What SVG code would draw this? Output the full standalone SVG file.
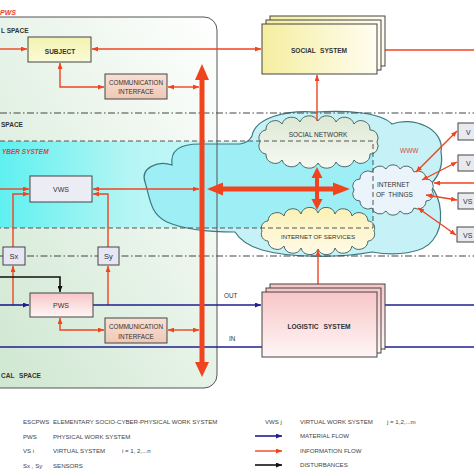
<svg xmlns="http://www.w3.org/2000/svg" width="474" height="474" viewBox="0 0 474 474">
<defs>
<style>
.r{stroke:#f0441f;stroke-width:1.4;fill:none}
.b{stroke:#1f1f8f;stroke-width:1.6;fill:none}
.k{stroke:#111;stroke-width:1.6;fill:none}
.t{font-family:"Liberation Sans",Arial,sans-serif;fill:#333}
.bo{font-weight:bold}
.box{stroke:#444;stroke-width:1}
.cl{stroke:#4a6a6a;stroke-width:1}
.dd{stroke:#444;stroke-width:1.1;stroke-dasharray:7 2.5 1.5 2.5;fill:none}
.da{stroke:#555;stroke-width:1;stroke-dasharray:5 3;fill:none}
.lg{font-family:"Liberation Sans",Arial,sans-serif;fill:#444;font-size:6.1px}
</style>
<marker id="ar" viewBox="0 0 6 5" refX="6" refY="2.5" markerWidth="6" markerHeight="5" markerUnits="userSpaceOnUse" orient="auto-start-reverse"><path d="M0,0 L6,2.5 L0,5 z" fill="#f0441f"/></marker>
<marker id="ab" viewBox="0 0 6 5" refX="6" refY="2.5" markerWidth="6" markerHeight="5" markerUnits="userSpaceOnUse" orient="auto-start-reverse"><path d="M0,0 L6,2.5 L0,5 z" fill="#1f1f8f"/></marker>
<marker id="ak" viewBox="0 0 6 5" refX="6" refY="2.5" markerWidth="6" markerHeight="5" markerUnits="userSpaceOnUse" orient="auto-start-reverse"><path d="M0,0 L6,2.5 L0,5 z" fill="#111"/></marker>
<linearGradient id="gPanel" x1="0" y1="1" x2="1" y2="0"><stop offset="0" stop-color="#cde6cf"/><stop offset="1" stop-color="#ffffff"/></linearGradient>
<linearGradient id="gBand" x1="0" y1="0" x2="1" y2="0"><stop offset="0" stop-color="#5ff0f0"/><stop offset="0.35" stop-color="#b6f5f5"/><stop offset="1" stop-color="#e2fafa"/></linearGradient>
<linearGradient id="gYel" x1="0" y1="0" x2="1" y2="0"><stop offset="0" stop-color="#f5eea0"/><stop offset="1" stop-color="#fffdf0"/></linearGradient>
<linearGradient id="gSub" x1="0" y1="0" x2="0" y2="1"><stop offset="0" stop-color="#f2f2b0"/><stop offset="1" stop-color="#fbfbd8"/></linearGradient>
<linearGradient id="gPink" x1="0" y1="0" x2="0" y2="1"><stop offset="0" stop-color="#f8c6c8"/><stop offset="1" stop-color="#fff6f6"/></linearGradient>
<linearGradient id="gCom" x1="0" y1="0" x2="0" y2="1"><stop offset="0" stop-color="#f7e0d4"/><stop offset="1" stop-color="#efc8b6"/></linearGradient>
<linearGradient id="gSN" x1="0" y1="0" x2="0" y2="1"><stop offset="0" stop-color="#dde8d4"/><stop offset="1" stop-color="#f6f9f2"/></linearGradient>
<linearGradient id="gIoS" x1="0" y1="0" x2="0" y2="1"><stop offset="0" stop-color="#fbf0b4"/><stop offset="1" stop-color="#fffbe8"/></linearGradient>
<path id="bigCloud" d="M145,182 C140,168 158,160 172,165 C170,150 180,144 200,144 L240,144 C246,143 250,140 252,136 C255,118 285,110 315,112 C345,110 380,112 392,124 C412,116 445,128 441,152 C444,168 437,178 430,185 C442,198 445,225 433,240 C423,254 395,256 372,252 C340,258 290,258 262,250 C248,246 240,240 235,232 C215,232 185,230 167,222 C150,214 150,198 145,182 Z"/>
<clipPath id="cpCloud"><use href="#bigCloud"/></clipPath>
</defs>
<rect width="474" height="474" fill="#ffffff"/>

<g id="backgrounds">
<rect x="-20" y="17" width="237" height="371" rx="13" fill="url(#gPanel)"/>
<rect x="0" y="141" width="373" height="87" fill="url(#gBand)"/>
</g>

<g id="www-cloud">
<use href="#bigCloud" fill="#c6f1f6"/>
<rect x="0" y="141" width="373" height="87" fill="#9eeef5" clip-path="url(#cpCloud)"/>
<use href="#bigCloud" fill="none" stroke="#3d7a80" stroke-width="1.2"/>
<text class="t" x="400" y="153" font-size="6.5" style="fill:#d84848">WWW</text>
</g>

<g id="panel-border">
<rect x="-20" y="17" width="237" height="371" rx="13" fill="none" stroke="#555" stroke-width="1"/>
<text class="t bo" x="0" y="14.5" font-size="7" font-style="italic" style="fill:#e8402a">PWS</text>
<text class="t bo" x="1" y="33" font-size="6.5">L SPACE</text>
<text class="t bo" x="1" y="127" font-size="6.5">SPACE</text>
<text class="t bo" x="2" y="154" font-size="6.5" font-style="italic" style="fill:#e8402a">YBER SYSTEM</text>
<text class="t bo" x="1" y="378" font-size="6.5" word-spacing="3">CAL SPACE</text>
</g>

<g id="social-network">
<path class="cl" fill="url(#gSN)" d="M260,142 A8,8 0 0 1 266,130 A9,9 0 0 1 282,124 A10,10 0 0 1 300,122 A10,10 0 0 1 318,121 A10,10 0 0 1 336,122 A10,10 0 0 1 354,124 A9,9 0 0 1 370,130 A8,8 0 0 1 377,142 A8,8 0 0 1 370,154 A9,9 0 0 1 354,160 A10,10 0 0 1 336,162 A10,10 0 0 1 318,163 A10,10 0 0 1 300,162 A10,10 0 0 1 282,160 A9,9 0 0 1 266,154 A8,8 0 0 1 260,142 Z"/>
<text class="t" x="318" y="137" font-size="6.5" text-anchor="middle">SOCIAL NETWORK</text>
</g>

<g id="internet-of-services">
<path class="cl" fill="url(#gIoS)" d="M262,231 A7,7 0 0 1 268,221 A9,9 0 0 1 284,216 A9,9 0 0 1 301,214 A9,9 0 0 1 318,213 A9,9 0 0 1 335,214 A9,9 0 0 1 352,216 A9,9 0 0 1 368,221 A7,7 0 0 1 374,231 A7,7 0 0 1 368,241 A9,9 0 0 1 352,246 A9,9 0 0 1 335,248 A9,9 0 0 1 318,249 A9,9 0 0 1 301,248 A9,9 0 0 1 284,246 A9,9 0 0 1 268,241 A7,7 0 0 1 262,231 Z"/>
<text class="t" x="318" y="239" font-size="6.2" text-anchor="middle">INTERNET OF SERVICES</text>
</g>

<g id="internet-of-things">
<path class="cl" fill="#eaf4fa" d="M354,190 A7,7 0 0 1 360,179 A8,8 0 0 1 372,172 A8,8 0 0 1 386,169 A8,8 0 0 1 400,169 A8,8 0 0 1 414,172 A8,8 0 0 1 426,179 A7,7 0 0 1 432,190 A7,7 0 0 1 426,201 A8,8 0 0 1 414,208 A8,8 0 0 1 400,211 A8,8 0 0 1 386,211 A8,8 0 0 1 372,208 A8,8 0 0 1 360,201 A7,7 0 0 1 354,190 Z"/>
<text class="t" x="377" y="187" font-size="6.5">INTERNET</text>
<text class="t" x="376" y="197" font-size="6.5" word-spacing="1.5">OF THINGS</text>
</g>

<g id="boundaries">
<path class="da" d="M0,141 H373 V228 H0"/>
<path class="dd" d="M0,113 H474"/>
<path class="dd" d="M0,256 H474"/>
</g>

<g id="connectors">
<path class="r" d="M0,49 H27" marker-end="url(#ar)"/>
<path class="r" d="M92,49 H261" marker-start="url(#ar)" marker-end="url(#ar)"/>
<path class="r" d="M474,50 H378" marker-end="url(#ar)"/>
<path class="r" d="M60,63 V87 H104" marker-start="url(#ar)" marker-end="url(#ar)"/>
<path class="r" d="M168,87 H199" marker-start="url(#ar)" marker-end="url(#ar)"/>
<path class="r" d="M0,189 H29" marker-end="url(#ar)"/>
<path class="r" d="M13,247 V194 H29" marker-end="url(#ar)"/>
<path class="r" d="M93,189 H199" marker-start="url(#ar)" marker-end="url(#ar)"/>
<path class="r" d="M108,247 V194 H93" marker-end="url(#ar)"/>
<path class="r" d="M13,305 V266" marker-end="url(#ar)"/>
<path class="r" d="M108,305 V266" marker-end="url(#ar)"/>
<path class="r" d="M60,318 V330 H104" marker-start="url(#ar)" marker-end="url(#ar)"/>
<path class="r" d="M168,330 H199" marker-start="url(#ar)" marker-end="url(#ar)"/>
<path class="r" d="M317,121 V75" marker-end="url(#ar)"/>
<path class="r" d="M318,250 V291" marker-start="url(#ar)" marker-end="url(#ar)"/>
<path class="r" d="M474,183 H434" marker-end="url(#ar)"/>
<path class="r" d="M416,172 L457,131" marker-start="url(#ar)" marker-end="url(#ar)"/>
<path class="r" d="M422,180 L457,162" marker-start="url(#ar)" marker-end="url(#ar)"/>
<path class="r" d="M426,195 L457,200" marker-start="url(#ar)" marker-end="url(#ar)"/>
<path class="r" d="M418,208 L456,235" marker-start="url(#ar)" marker-end="url(#ar)"/>
<path class="b" d="M0,305 H29" marker-end="url(#ab)"/>
<path class="b" d="M93,305 H261" marker-end="url(#ab)"/>
<path class="b" d="M377,305 H474"/>
<path class="b" d="M474,347 H379" marker-end="url(#ab)"/>
<path class="b" d="M262,347 H0"/>
<path class="k" d="M0,277 H60 V292" marker-end="url(#ak)"/>
<polygon fill="#f0441f" points="202,64 209,80 204.5,80 204.5,362 209,362 202,377 195,362 199.5,362 199.5,80 195,80"/>
<polygon fill="#f0441f" points="207,189 223,182.5 223,186.5 333,186.5 333,182.5 350,189 333,195.5 333,191.5 223,191.5 223,195.5"/>
<polygon fill="#f0441f" points="317,167 322.5,178 319,178 319,199 322.5,199 317,210 311.5,199 315,199 315,178 311.5,178"/>
</g>

<g id="subject">
<rect class="box" x="28" y="37" width="63" height="25" fill="url(#gSub)"/>
<text class="t bo" x="60" y="54" font-size="6.5" text-anchor="middle">SUBJECT</text>
</g>
<g id="comm-top">
<rect class="box" x="105" y="74" width="62" height="25" fill="url(#gCom)"/>
<text class="t" x="136" y="84.5" font-size="6.3" text-anchor="middle">COMMUNICATION</text>
<text class="t" x="136" y="94" font-size="6.3" text-anchor="middle">INTERFACE</text>
</g>
<g id="vws">
<rect class="box" x="30" y="176" width="62" height="26" fill="#ececf5"/>
<text class="t" x="61" y="191.5" font-size="7" text-anchor="middle">VWS</text>
</g>
<g id="sx">
<rect class="box" x="3" y="247" width="22" height="18" fill="#e6e6f4"/>
<text class="t" x="14" y="259" font-size="7.5" text-anchor="middle">Sx</text>
</g>
<g id="sy">
<rect class="box" x="98" y="247" width="21" height="18" fill="#e6e6f4"/>
<text class="t" x="108.5" y="259" font-size="7.5" text-anchor="middle">Sy</text>
</g>
<g id="pws">
<rect class="box" x="30" y="293" width="63" height="24" fill="url(#gPink)"/>
<text class="t" x="61" y="307.5" font-size="7" text-anchor="middle">PWS</text>
</g>
<g id="comm-bottom">
<rect class="box" x="105" y="318" width="62" height="25" fill="url(#gCom)"/>
<text class="t" x="136" y="329" font-size="6.3" text-anchor="middle">COMMUNICATION</text>
<text class="t" x="136" y="338.5" font-size="6.3" text-anchor="middle">INTERFACE</text>
</g>
<g id="social-system">
<rect class="box" x="270" y="16" width="115" height="50" fill="url(#gYel)"/>
<rect class="box" x="266" y="20" width="115" height="50" fill="url(#gYel)"/>
<rect class="box" x="262" y="24" width="115" height="50" fill="url(#gYel)"/>
<text class="t bo" x="319" y="53" font-size="6.6" text-anchor="middle" word-spacing="2.5">SOCIAL SYSTEM</text>
</g>
<g id="logistic-system">
<rect class="box" x="270" y="284" width="115" height="65" fill="url(#gPink)"/>
<rect class="box" x="266" y="288" width="115" height="65" fill="url(#gPink)"/>
<rect class="box" x="262" y="292" width="115" height="65" fill="url(#gPink)"/>
<text class="t bo" x="319" y="329" font-size="6.6" text-anchor="middle" word-spacing="3">LOGISTIC SYSTEM</text>
</g>
<g id="vs1"><rect class="box" x="458" y="123" width="22" height="17" fill="#e8eaf0"/><text class="t" x="466" y="134.5" font-size="7">V</text></g>
<g id="vs2"><rect class="box" x="458" y="155" width="22" height="16" fill="#e8eaf0"/><text class="t" x="466" y="166" font-size="7">V</text></g>
<g id="vs3"><rect class="box" x="458" y="193" width="22" height="16" fill="#e8eaf0"/><text class="t" x="463" y="204" font-size="7">VS</text></g>
<g id="vs4"><rect class="box" x="457" y="227" width="23" height="15" fill="#e8eaf0"/><text class="t" x="463" y="237.5" font-size="7">VS</text></g>

<g id="labels">
<text class="t" x="224" y="298" font-size="6.3">OUT</text>
<text class="t" x="229" y="341" font-size="6.3">IN</text>
</g>

<g id="legend">
<text class="lg" x="23" y="424">ESCPWS</text>
<text class="lg" x="53" y="424">ELEMENTARY SOCIO-CYBER-PHYSICAL WORK SYSTEM</text>
<text class="lg" x="23" y="438.5">PWS</text>
<text class="lg" x="53" y="438.5">PHYSICAL WORK SYSTEM</text>
<text class="lg" x="23" y="453">VS i</text>
<text class="lg" x="53" y="453">VIRTUAL SYSTEM</text>
<text class="lg" x="122" y="453">i = 1, 2,...n</text>
<text class="lg" x="23" y="467.5">Sx , Sy</text>
<text class="lg" x="53" y="467.5">SENSORS</text>
<text class="lg" x="265" y="423.5">VWS j</text>
<text class="lg" x="300" y="423.5">VIRTUAL WORK SYSTEM</text>
<text class="lg" x="387" y="423.5">j = 1,2,...m</text>
<path class="b" d="M255,436 H282" marker-end="url(#ab)"/>
<text class="lg" x="300" y="438">MATERIAL FLOW</text>
<path class="r" d="M255,451 H282" marker-end="url(#ar)"/>
<text class="lg" x="300" y="453">INFORMATION FLOW</text>
<path class="k" d="M255,465 H282" marker-end="url(#ak)"/>
<text class="lg" x="300" y="467">DISTURBANCES</text>
</g>
</svg>
